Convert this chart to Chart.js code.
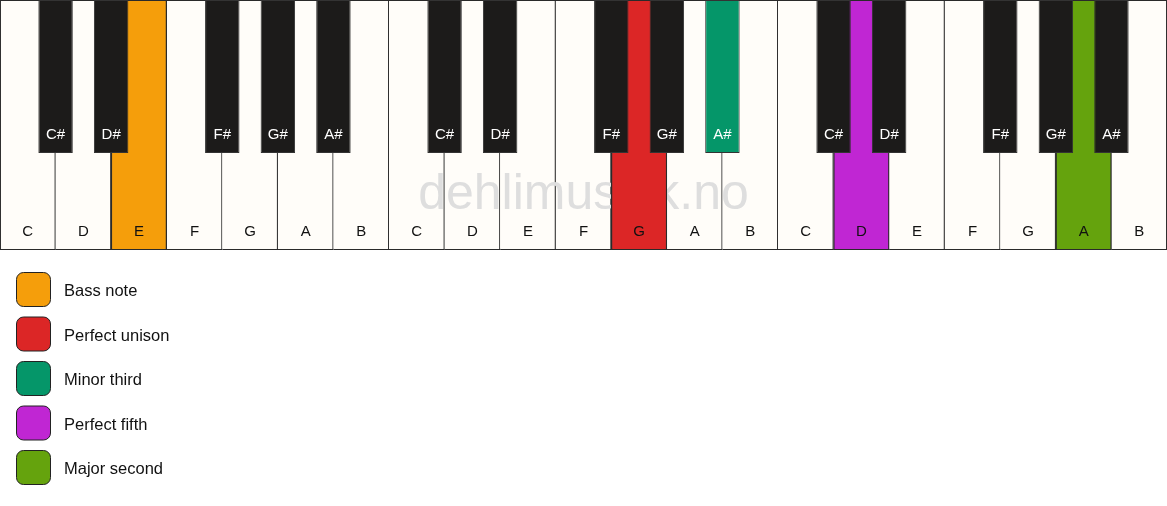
<!DOCTYPE html>
<html><head><meta charset="utf-8">
<script src="https://cdn.jsdelivr.net/npm/chart.js@4/dist/chart.umd.min.js"></script>
<style>html,body{margin:0;padding:0;background:#fff;}#wrap{width:1167px;height:506px;position:relative}</style>
</head><body><div id="wrap"><canvas id="c"></canvas></div>
<script>
// ---- data ----
const whiteKeys = ['C','D','E','F','G','A','B','C','D','E','F','G','A','B','C','D','E','F','G','A','B'];
const blackKeys = ['C#','D#','F#','G#','A#','C#','D#','F#','G#','A#','C#','D#','F#','G#','A#'];
const blackKeyAfter = [1,2,4,5,6,8,9,11,12,13,15,16,18,19,20]; // white-key boundary each black key sits on
const intervalNames = ['Bass note','Perfect unison','Minor third','Perfect fifth','Major second'];
const intervalColors = ['#f59e0b','#dc2626','#059669','#c026d3','#65a30d'];
const intervalKeyType = ['white','white','black','white','white'];
const intervalKeyIndex = [2, 11, 9, 15, 19];
const watermark = 'dehlimusikk.no';

// ---- style constants ----
const WHITE = '#fffdf9', BLACK = '#1c1b1a', EDGE = '#2a2a2a';
const BLACK_BOTTOM = 0.388;
const FONT = '"Liberation Sans", Arial, Helvetica, sans-serif';

const whiteData = whiteKeys.map((k, i) => ({x: i + 0.5, y: [0, 1]}));
const highlightWhite = [];
const highlightWhiteColors = [];
intervalKeyType.forEach((t, j) => {
  if (t === 'white') {
    highlightWhite.push({x: intervalKeyIndex[j] + 0.5, y: [0, 1]});
    highlightWhiteColors.push(intervalColors[j]);
  }
});
const blackData = blackKeys.map((k, i) => ({x: blackKeyAfter[i], y: [BLACK_BOTTOM, 1]}));
const blackColors = blackKeys.map((k, i) => {
  const j = intervalKeyType.findIndex((t, jj) => t === 'black' && intervalKeyIndex[jj] === i);
  return j >= 0 ? intervalColors[j] : BLACK;
});

const pianoPlugin = {
  id: 'piano',
  afterDatasetDraw(chart, args) {
    if (args.index !== 0) return;
    const ctx = chart.ctx, a = chart.chartArea;
    ctx.save();
    ctx.font = '50px ' + FONT;
    ctx.fillStyle = '#dedede';
    ctx.textAlign = 'center';
    ctx.textBaseline = 'alphabetic';
    ctx.fillText(watermark, (a.left + a.right) / 2, chart.scales.y.getPixelForValue(0.164));
    ctx.restore();
  },
  afterDraw(chart) {
    const ctx = chart.ctx, a = chart.chartArea, ys = chart.scales.y;
    ctx.save();
    ctx.font = '15px ' + FONT;
    ctx.textAlign = 'center';
    ctx.textBaseline = 'middle';
    const wm = chart.getDatasetMeta(0);
    whiteKeys.forEach((k, i) => {
      ctx.fillStyle = '#111';
      ctx.fillText(k, wm.data[i].x, ys.getPixelForValue(0.072));
    });
    const bm = chart.getDatasetMeta(2);
    blackKeys.forEach((k, i) => {
      ctx.fillStyle = '#ffffff';
      ctx.fillText(k, bm.data[i].x, ys.getPixelForValue(0.46));
    });
    // legend
    const top0 = a.bottom + 22, step = 44.5, size = 34;
    ctx.font = '16.5px ' + FONT;
    ctx.textAlign = 'left';
    intervalNames.forEach((name, j) => {
      const y = top0 + j * step;
      ctx.beginPath();
      ctx.roundRect(16.5, y + 0.5, size, size, 7);
      ctx.fillStyle = intervalColors[j];
      ctx.fill();
      ctx.lineWidth = 1;
      ctx.strokeStyle = '#222';
      ctx.stroke();
      ctx.fillStyle = '#111';
      ctx.fillText(name, 64, y + size / 2 + 2.5);
    });
    ctx.restore();
  }
};

new Chart(document.getElementById('c'), {
  type: 'bar',
  data: {
    datasets: [
      {data: whiteData, xAxisID: 'x', backgroundColor: WHITE, borderColor: EDGE,
       borderWidth: ctx => ({left: ctx.dataIndex === 0 ? 1.3 : 0, right: 1.3, top: 1.3, bottom: 1.3}),
       borderSkipped: false, barPercentage: 1, categoryPercentage: 1, grouped: false, order: 3},
      {data: highlightWhite, xAxisID: 'x', backgroundColor: highlightWhiteColors, borderColor: EDGE,
       borderWidth: 1.3, borderSkipped: false, barPercentage: 1, categoryPercentage: 1, grouped: false, order: 2},
      {data: blackData, xAxisID: 'xb', backgroundColor: blackColors, borderColor: '#333',
       borderWidth: 1, borderSkipped: false, barPercentage: 0.62, categoryPercentage: 1, grouped: false, order: 1}
    ]
  },
  options: {
    responsive: true, maintainAspectRatio: false, animation: false,
    devicePixelRatio: 1,
    layout: {padding: {left: 0, right: 0, top: 0, bottom: 256}},
    plugins: {legend: {display: false}, tooltip: {enabled: false}},
    scales: {
      x: {type: 'linear', min: 0, max: whiteKeys.length, offset: false, display: false},
      xb: {type: 'linear', min: 0, max: whiteKeys.length, offset: false, display: false},
      y: {type: 'linear', min: 0, max: 1, display: false}
    }
  },
  plugins: [pianoPlugin]
});
</script></body></html>
